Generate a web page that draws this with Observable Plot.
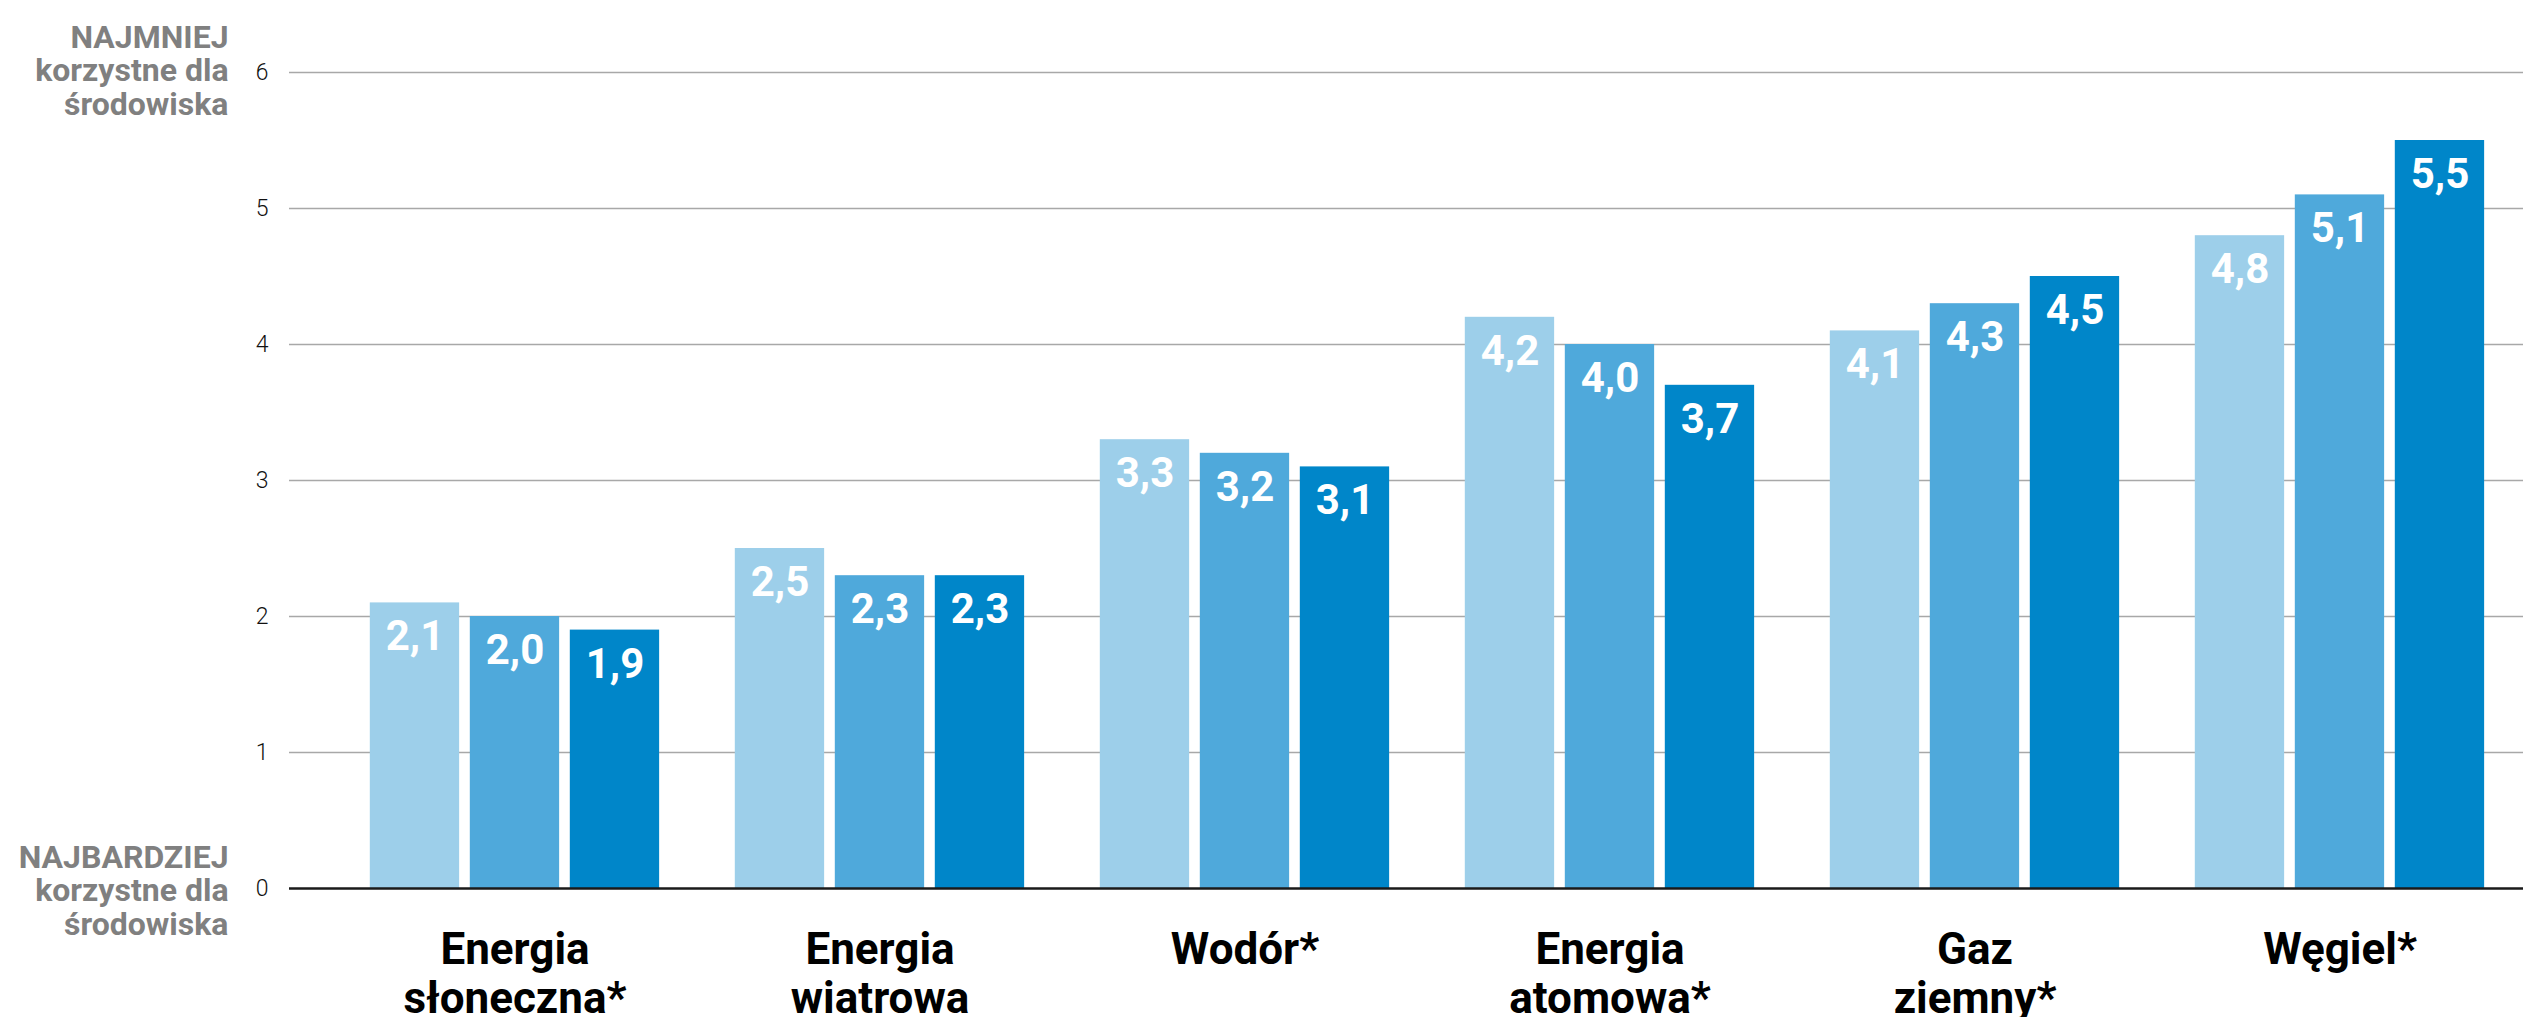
<!DOCTYPE html>
<html lang="pl">
<head>
<meta charset="utf-8">
<title>Korzystność źródeł energii dla środowiska</title>
<script src="https://cdn.jsdelivr.net/npm/d3@7"></script>
<script src="https://cdn.jsdelivr.net/npm/@observablehq/plot@0.6"></script>
<style>
  html, body { margin: 0; padding: 0; background: #fff; overflow: hidden; }
  #chart svg { display: block; }
</style>
</head>
<body>
<div id="chart"></div>
<script>
// Energy sources along the x axis (line breaks are drawn as-is)
const categories = [
  "Energia\nsłoneczna*",
  "Energia\nwiatrowa",
  "Wodór*",
  "Energia\natomowa*",
  "Gaz\nziemny*",
  "Węgiel*"
];

// Three series of ratings per source (0 = most, 6 = least beneficial)
const seriesNames = ["seria 1", "seria 2", "seria 3"];
const series1 = [2.1, 2.5, 3.3, 4.2, 4.1, 4.8];
const series2 = [2.0, 2.3, 3.2, 4.0, 4.3, 5.1];
const series3 = [1.9, 2.3, 3.1, 3.7, 4.5, 5.5];

// Y axis ticks and the end-of-scale captions
const yTicks = [0, 1, 2, 3, 4, 5, 6];
const scaleTopHead = "NAJMNIEJ";
const scaleBottomHead = "NAJBARDZIEJ";
const scaleTail = "korzystne dla\nśrodowiska";

// Styling
const seriesColors = ["#9dcfea", "#4fa9db", "#0086c9"];
const fmt = v => d3.format(".1f")(v).replace(".", ",");

const allSeries = [series1, series2, series3];
const tables = allSeries.map((vals, i) =>
  categories.map((c, j) => ({category: c, series: seriesNames[i], value: vals[j]}))
);

// Bars sit inside each category band: 90px wide, 10px apart
const barW = 90, barGap = 10, groupOffset = 37.8, bandW = 2194 / 6;
const barMarks = tables.flatMap((rows, i) => {
  const left = groupOffset + i * (barW + barGap);
  const right = bandW - left - barW;
  const shift = (i - 1) * (barW + barGap);
  return [
    Plot.barY(rows, {
      x: "category", y: "value", fill: seriesColors[i],
      insetLeft: left, insetRight: right
    }),
    Plot.text(rows, {
      x: "category", y: "value", text: d => fmt(d.value),
      dx: shift, dy: 34, fill: "#fff",
      fontSize: 42, fontWeight: 700, lineAnchor: "middle"
    })
  ];
});

const captionStyle = {
  frameAnchor: "left", textAnchor: "end", fill: "#808080",
  fontSize: 32, fontWeight: 700, lineHeight: 1.05, lineAnchor: "middle"
};

const chart = Plot.plot({
  width: 2523,
  height: 1017,
  marginLeft: 289,
  marginRight: 0,
  marginTop: 72,
  marginBottom: 129,
  style: {fontFamily: "Roboto, 'Noto Sans', sans-serif", fontSize: "23px", fontWeight: 300, color: "#111", background: "#fff"},
  x: {domain: categories, range: [330, 2524], padding: 0, axis: null},
  y: {domain: [0, 6], ticks: yTicks, tickSize: 0, tickPadding: 21, tickFormat: d3.format("d"), label: null},
  marks: [
    Plot.ruleY(yTicks.filter(t => t > 0), {stroke: "#a8a8a8", strokeWidth: 1.5}),
    ...barMarks,
    Plot.ruleY([0], {stroke: "#1a1a1a", strokeWidth: 2.5}),
    // End-of-scale captions left of the axis
    Plot.text([{y: 6, t: scaleTopHead + "\n" + scaleTail}], {...captionStyle, y: "y", text: "t", dx: -61, dy: -2}),
    Plot.text([{y: 0, t: scaleBottomHead + "\n" + scaleTail}], {...captionStyle, y: "y", text: "t", dx: -61, dy: 2}),
    // Category labels under the baseline
    Plot.text(categories, {
      x: d => d, text: d => d, frameAnchor: "bottom",
      lineAnchor: "top", dy: 40, fontSize: 44, fontWeight: 700,
      lineHeight: 1.12, fill: "#000"
    })
  ]
});

document.getElementById("chart").append(chart);
</script>
</body>
</html>
